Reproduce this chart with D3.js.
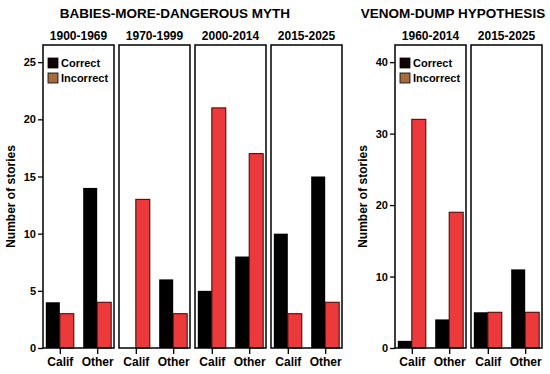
<!DOCTYPE html>
<html>
<head>
<meta charset="utf-8">
<script src="https://cdn.jsdelivr.net/npm/d3@7"></script>
<style>
  body { margin: 0; background: #fff; }
  svg { display: block; font-family: "Liberation Sans", Arial, sans-serif; font-weight: bold; }
</style>
</head>
<body>
<div id="chart"></div>
<script>
// Two small-multiple groups: correct vs incorrect stories, California vs other,
// one panel per period.
const categories = ['Calif', 'Other'];
const seriesNames = ['Correct', 'Incorrect'];

const babiesPeriods = ['1900-1969', '1970-1999', '2000-2014', '2015-2025'];
const babiesCorrect = [[4, 14], [0, 6], [5, 8], [10, 15]];
const babiesIncorrect = [[3, 4], [13, 3], [21, 17], [3, 4]];
const babiesTicks = [0, 5, 10, 15, 20, 25];

const venomPeriods = ['1960-2014', '2015-2025'];
const venomCorrect = [[1, 4], [5, 11]];
const venomIncorrect = [[32, 19], [5, 5]];
const venomTicks = [0, 10, 20, 30, 40];

const COLORS = { Correct: '#000000', Incorrect: '#ec3a3c' };
const SWATCH = { Correct: '#140306', Incorrect: '#a86b3e' };

const W = 550, H = 374;
const svg = d3.select('#chart').append('svg').attr('width', W).attr('height', H);

const PANEL_TOP = 45, BASELINE = 348, PANEL_W = 71, PANEL_GAP = 5, BAR_W = 14;

function drawGroup({ title, titleX, left, periods, correct, incorrect, ticks, yMax, labelX }) {
  const y = d3.scaleLinear().domain([0, yMax]).range([BASELINE, PANEL_TOP]);
  const g = svg.append('g');

  g.append('text')
    .attr('x', titleX).attr('y', 18)
    .attr('text-anchor', 'middle')
    .attr('font-size', 13.5)
    .text(title);

  // y axis sits on the first panel's left edge
  const yAxis = g.append('g')
    .attr('transform', `translate(${left},0)`)
    .call(d3.axisLeft(y).tickValues(ticks).tickSize(5).tickPadding(2));
  yAxis.select('.domain').remove();
  yAxis.selectAll('line').attr('stroke', '#000').attr('stroke-width', 1.3);
  yAxis.selectAll('text').attr('font-size', 11).attr('font-weight', 'bold')
    .attr('font-family', '"Liberation Sans", Arial, sans-serif').attr('fill', '#000');

  g.append('text')
    .attr('transform', `translate(${labelX},${(PANEL_TOP + BASELINE) / 2}) rotate(-90)`)
    .attr('text-anchor', 'middle')
    .attr('font-size', 12)
    .text('Number of stories');

  periods.forEach((period, i) => {
    const x0 = left + i * (PANEL_W + PANEL_GAP);
    const x = d3.scalePoint().domain(categories).range([x0, x0 + PANEL_W]).padding(0.45);
    const p = g.append('g');

    p.append('text')
      .attr('x', x0 + PANEL_W / 2).attr('y', 40)
      .attr('text-anchor', 'middle')
      .attr('font-size', 12)
      .text(period);

    categories.forEach((cat, j) => {
      const cx = x(cat);
      const vals = [correct[i][j], incorrect[i][j]];
      vals.forEach((v, k) => {
        if (v === 0) return;
        p.append('rect')
          .attr('x', k === 0 ? cx - BAR_W : cx)
          .attr('y', y(v))
          .attr('width', BAR_W)
          .attr('height', y(0) - y(v))
          .attr('fill', COLORS[seriesNames[k]])
          .attr('stroke', k === 0 ? 'none' : '#2a0a08')
          .attr('stroke-width', 1);
      });
    });

    p.append('rect')
      .attr('x', x0).attr('y', PANEL_TOP)
      .attr('width', PANEL_W).attr('height', BASELINE - PANEL_TOP)
      .attr('fill', 'none').attr('stroke', '#000').attr('stroke-width', 1.5);

    const xAxis = p.append('g')
      .attr('transform', `translate(0,${BASELINE})`)
      .call(d3.axisBottom(x).tickSize(6).tickPadding(3));
    xAxis.select('.domain').remove();
    xAxis.selectAll('line').attr('stroke', '#000').attr('stroke-width', 1.3);
    xAxis.selectAll('text').attr('font-size', 12).attr('font-weight', 'bold')
      .attr('font-family', '"Liberation Sans", Arial, sans-serif').attr('fill', '#000');

    if (i === 0) {
      seriesNames.forEach((s, k) => {
        const ly = 58 + k * 15;
        p.append('rect')
          .attr('x', x0 + 5).attr('y', ly)
          .attr('width', 10).attr('height', 10)
          .attr('fill', SWATCH[s]).attr('stroke', '#000').attr('stroke-width', 0.8);
        p.append('text')
          .attr('x', x0 + 18).attr('y', ly + 9)
          .attr('font-size', 11)
          .text(s);
      });
    }
  });
}

drawGroup({
  title: 'BABIES-MORE-DANGEROUS MYTH', titleX: 175, left: 43,
  periods: babiesPeriods, correct: babiesCorrect, incorrect: babiesIncorrect,
  ticks: babiesTicks, yMax: 26.5, labelX: 15,
});

drawGroup({
  title: 'VENOM-DUMP HYPOTHESIS', titleX: 453, left: 395,
  periods: venomPeriods, correct: venomCorrect, incorrect: venomIncorrect,
  ticks: venomTicks, yMax: 42.4, labelX: 367,
});
</script>
</body>
</html>
